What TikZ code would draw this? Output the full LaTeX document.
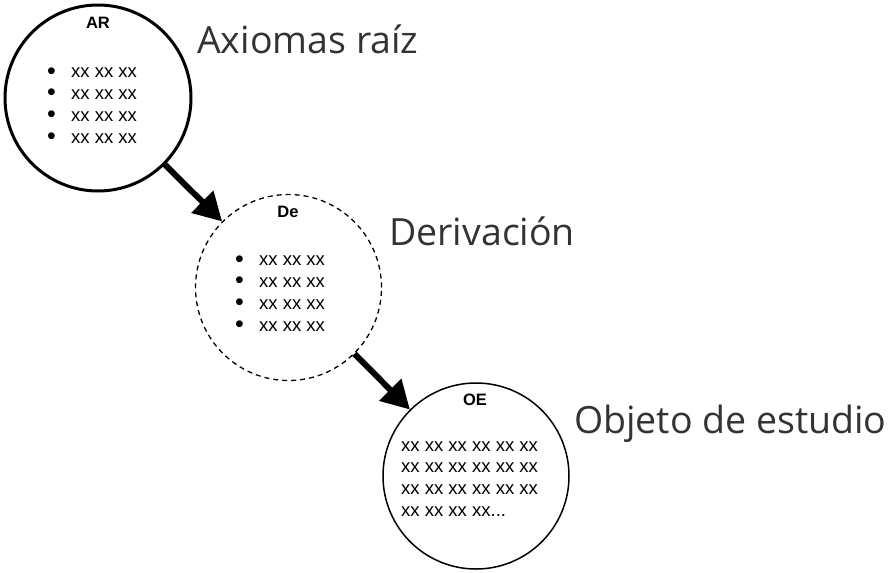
\documentclass[tikz,border=0pt]{standalone}
\usepackage{fontspec}
\setmainfont{Liberation Sans}
\newfontfamily\titlefont{Open Sans}
\usetikzlibrary{arrows.meta,positioning}
\definecolor{titlegray}{HTML}{333333}
\newcommand{\itemdot}{\makebox[24pt][l]{\smash{\raisebox{-1.5pt}{\fontsize{25}{22}\selectfont\textbullet}}}}

\begin{document}
\begin{tikzpicture}[
    x=1pt, y=-1pt,
    circ/.style={circle, draw, minimum size=186pt, inner sep=0pt},
    head/.style={font=\fontsize{16.5}{20}\selectfont\bfseries, anchor=base, inner sep=0pt},
    list/.style={font=\fontsize{18.5}{21.8}\selectfont, align=left, anchor=base west, inner sep=0pt},
    title/.style={font=\titlefont\fontsize{37.5}{45}\selectfont, text=titlegray, anchor=base west, inner sep=0pt},
    arrow/.style={-{Triangle[length=28pt,width=30pt]}, line width=6pt}
]
    \useasboundingbox (0,0) rectangle (892,573);
    % Circles
    \node[circ, line width=3pt] (ar) at (98,98) {};
    \node[circ, dashed, dash pattern=on 5pt off 4pt, line width=1.3pt] (de) at (288.5,287.5) {};
    \node[circ, line width=1.5pt] (oe) at (476,476) {};
    % Headings
    \node[head] (arh) at (98,28.5) {AR};
    \node[head] (deh) at (288,217) {De};
    \node[head] (oeh) at (475,405) {OE};
    % Contents (anchored at the last line)
    \node[list] (arl) at (47,143) {\itemdot xx xx xx\\
        \itemdot xx xx xx\\
        \itemdot xx xx xx\\
        \itemdot xx xx xx};
    \node[list] (del) at (235,331) {\itemdot xx xx xx\\
        \itemdot xx xx xx\\
        \itemdot xx xx xx\\
        \itemdot xx xx xx};
    \node[list] (oel) at (401,516.5) {xx xx xx xx xx xx\\
        xx xx xx xx xx xx\\
        xx xx xx xx xx xx\\
        xx xx xx xx...};
    % Titles
    \node[title] (art) at (197,53) {Axiomas raíz};
    \node[title] (det) at (389,245) {Derivación};
    \node[title] (oet) at (574,433) {Objeto de estudio};
    % Arrows
    \draw[arrow] (ar) -- (de);
    \draw[arrow] (de) -- (oe);
\end{tikzpicture}
\end{document}
